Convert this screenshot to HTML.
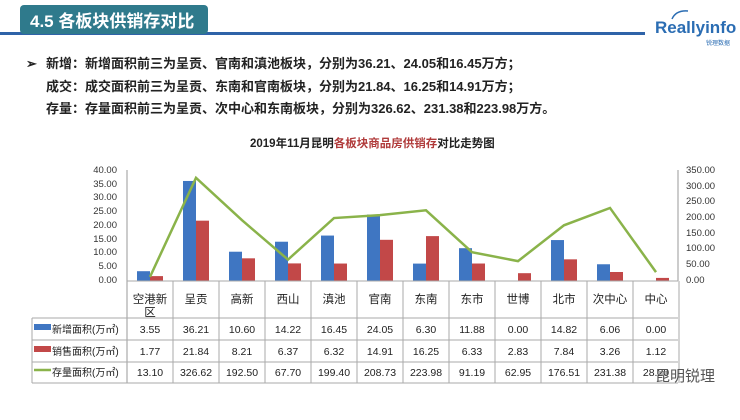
<!DOCTYPE html>
<html><head><meta charset="utf-8"><style>
body{margin:0;width:740px;height:415px;background:#fff;overflow:hidden;font-family:"Liberation Sans","Noto Sans CJK SC",sans-serif}
</style></head><body>
<svg width="740" height="415" xmlns="http://www.w3.org/2000/svg" font-family="Liberation Sans, Noto Sans CJK SC, sans-serif">
<rect x="0" y="32" width="645" height="3" fill="#2f63a8"/>
<rect x="20" y="5" width="188" height="29" rx="4" fill="#2f7a8c"/>
<text x="30" y="27" font-size="17" font-weight="bold" fill="#fff">4.5  各板块供销存对比</text>
<text x="655" y="33" font-size="17" font-weight="bold" fill="#2b6db3">Reallyinfo</text>
<text x="706" y="45" font-size="6" fill="#2b6db3">锐理数据</text>
<path d="M672 19 Q676 10 688 11" stroke="#2b6db3" fill="none" stroke-width="1.5"/>
<g font-size="13" font-weight="bold" fill="#222">
<text x="26" y="68">➢</text>
<text x="46" y="68">新增：新增面积前三为呈贡、官南和滇池板块，分别为36.21、24.05和16.45万方；</text>
<text x="46" y="91">成交：成交面积前三为呈贡、东南和官南板块，分别为21.84、16.25和14.91万方；</text>
<text x="46" y="113">存量：存量面积前三为呈贡、次中心和东南板块，分别为326.62、231.38和223.98万方。</text>
</g>
<text x="250" y="147" font-size="11.5" font-weight="bold" fill="#222">2019年11月昆明<tspan fill="#b03a3a">各板块商品房供销存</tspan>对比走势图</text>
<g font-size="9.5" fill="#333" text-anchor="end">
<text x="117" y="173">40.00</text><text x="117" y="187">35.00</text><text x="117" y="200">30.00</text><text x="117" y="214">25.00</text><text x="117" y="228">20.00</text><text x="117" y="242">15.00</text><text x="117" y="255">10.00</text><text x="117" y="269">5.00</text><text x="117" y="283">0.00</text>
</g>
<g font-size="9.5" fill="#333">
<text x="686" y="173">350.00</text><text x="686" y="189">300.00</text><text x="686" y="204">250.00</text><text x="686" y="220">200.00</text><text x="686" y="236">150.00</text><text x="686" y="251">100.00</text><text x="686" y="267">50.00</text><text x="686" y="283">0.00</text>
</g>
<line x1="127" y1="170" x2="127" y2="383" stroke="#999"/>
<line x1="678" y1="170" x2="678" y2="281" stroke="#999"/>
<g id="bars"></g>
<g stroke="#aaa" fill="none">
<line x1="127" y1="281" x2="678" y2="281"/>
<line x1="32" y1="318" x2="678" y2="318"/>
<line x1="32" y1="340" x2="678" y2="340"/>
<line x1="32" y1="362" x2="678" y2="362"/>
<line x1="32" y1="383" x2="678" y2="383"/>
<line x1="32" y1="318" x2="32" y2="383"/>
</g>
<rect x="34" y="324" width="17" height="6" fill="#3f76c2"/>
<rect x="34" y="346" width="17" height="6" fill="#c24848"/>
<line x1="34" y1="370" x2="51" y2="370" stroke="#8ab34a" stroke-width="2.5"/>
<g font-size="10" fill="#222">
<text x="52" y="333">新增面积(万㎡)</text>
<text x="52" y="355">销售面积(万㎡)</text>
<text x="52" y="376">存量面积(万㎡)</text>
</g>
<g id="tbl" font-size="10.5" fill="#222" text-anchor="middle"></g>
<text x="655" y="381" font-size="15" fill="#555">昆明锐理</text>
</svg>
<script>
var names=["空港新","呈贡","高新","西山","滇池","官南","东南","东市","世博","北市","次中心","中心"];
var a=[3.55,36.21,10.60,14.22,16.45,24.05,6.30,11.88,0.00,14.82,6.06,0.00];
var b=[1.77,21.84,8.21,6.37,6.32,14.91,16.25,6.33,2.83,7.84,3.26,1.12];
var c=[13.10,326.62,192.50,67.70,199.40,208.73,223.98,91.19,62.95,176.51,231.38,28.20];
var ns="http://www.w3.org/2000/svg",g=document.getElementById("bars"),t=document.getElementById("tbl");
function el(p,tag,at,txt){var e=document.createElementNS(ns,tag);for(var k in at)e.setAttribute(k,at[k]);if(txt!=null)e.textContent=txt;p.appendChild(e);return e;}
var pts=[];
for(var i=0;i<12;i++){
 var x0=127+46*i,cx=x0+23;
 var ha=a[i]*2.7625,hb=b[i]*2.7625;
 el(g,"rect",{x:x0+10,y:281-ha,width:13,height:ha,fill:"#3f76c2"});
 el(g,"rect",{x:x0+23,y:281-hb,width:13,height:hb,fill:"#c24848"});
 pts.push(cx+","+(281-c[i]*0.3157));
 el(t,"line",{x1:x0+46,y1:281,x2:x0+46,y2:383,stroke:"#aaa"});
 el(t,"text",{x:cx,y:303,"font-size":11.5},names[i]);
 if(i==0)el(t,"text",{x:cx,y:316,"font-size":11.5},"区");
 el(t,"text",{x:cx,y:333},a[i].toFixed(2));
 el(t,"text",{x:cx,y:355},b[i].toFixed(2));
 el(t,"text",{x:cx,y:376},c[i].toFixed(2));
}
el(g,"polyline",{points:pts.join(" "),fill:"none",stroke:"#8ab34a","stroke-width":2.5});
</script>
</body></html>
